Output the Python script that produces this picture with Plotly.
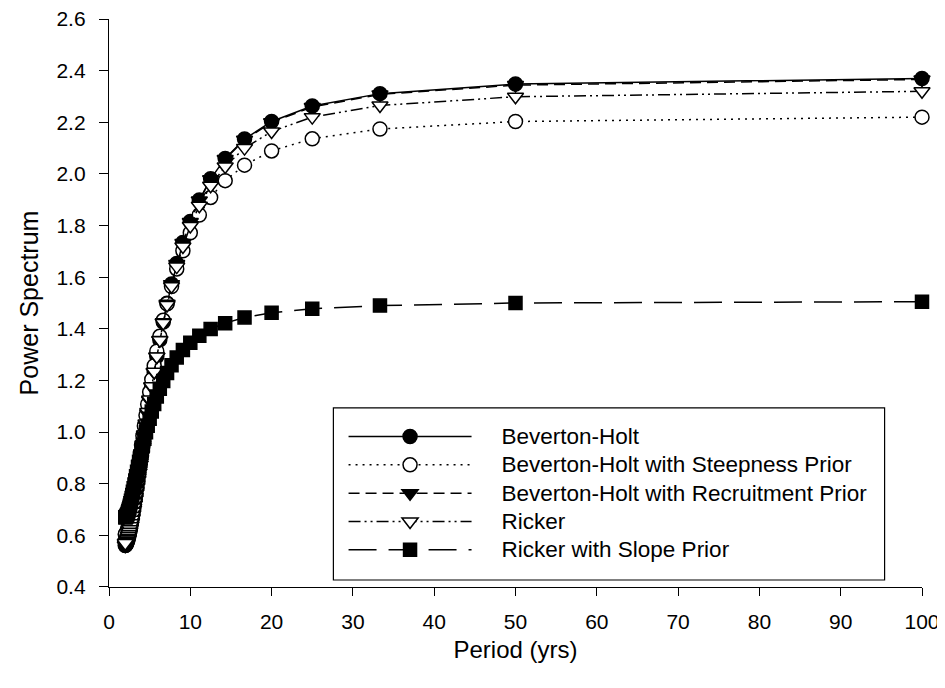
import plotly.graph_objects as go

period = [100, 50, 33.33, 25, 20, 16.67, 14.29, 12.5, 11.11, 10,
          9.09, 8.33, 7.69, 7.14, 6.67, 6.25, 5.88, 5.56, 5.26, 5,
          4.76, 4.55, 4.35, 4.17, 4, 3.85, 3.70, 3.57, 3.45, 3.33,
          3.23, 3.13, 3.03, 2.94, 2.86, 2.78, 2.70, 2.63, 2.56, 2.5,
          2.44, 2.38, 2.33, 2.27, 2.22, 2.17, 2.13, 2.08, 2.04, 2.0]

bh = [2.370, 2.348, 2.311, 2.263, 2.203, 2.135, 2.060, 1.981, 1.899, 1.816,
      1.734, 1.653, 1.574, 1.499, 1.426, 1.358, 1.293, 1.233, 1.176, 1.123,
      1.073, 1.027, 0.985, 0.945, 0.908, 0.874, 0.843, 0.814, 0.787, 0.763,
      0.740, 0.719, 0.700, 0.682, 0.666, 0.652, 0.638, 0.626, 0.615, 0.606,
      0.597, 0.589, 0.583, 0.577, 0.572, 0.568, 0.565, 0.563, 0.562, 0.561]

bh_steep = [2.220, 2.203, 2.174, 2.136, 2.089, 2.034, 1.974, 1.909, 1.841, 1.772,
            1.702, 1.632, 1.564, 1.497, 1.433, 1.371, 1.313, 1.257, 1.204, 1.155,
            1.108, 1.065, 1.024, 0.986, 0.950, 0.917, 0.887, 0.858, 0.832, 0.807,
            0.785, 0.764, 0.745, 0.727, 0.711, 0.696, 0.682, 0.670, 0.659, 0.649,
            0.640, 0.633, 0.626, 0.620, 0.615, 0.611, 0.608, 0.606, 0.604, 0.604]

bh_recr = [2.366, 2.344, 2.308, 2.259, 2.200, 2.132, 2.058, 1.979, 1.897, 1.814,
           1.732, 1.651, 1.573, 1.497, 1.425, 1.357, 1.292, 1.232, 1.175, 1.122,
           1.072, 1.026, 0.984, 0.944, 0.908, 0.874, 0.843, 0.814, 0.787, 0.763,
           0.740, 0.719, 0.700, 0.682, 0.666, 0.652, 0.638, 0.626, 0.615, 0.606,
           0.597, 0.589, 0.583, 0.577, 0.572, 0.568, 0.565, 0.563, 0.562, 0.561]

ricker = [2.320, 2.299, 2.265, 2.220, 2.164, 2.100, 2.029, 1.954, 1.877, 1.798,
          1.719, 1.641, 1.565, 1.492, 1.423, 1.356, 1.293, 1.234, 1.178, 1.126,
          1.078, 1.033, 0.991, 0.952, 0.915, 0.882, 0.851, 0.822, 0.795, 0.771,
          0.748, 0.727, 0.708, 0.691, 0.675, 0.660, 0.647, 0.635, 0.624, 0.614,
          0.605, 0.598, 0.591, 0.585, 0.580, 0.577, 0.574, 0.571, 0.570, 0.570]

ricker_slope = [1.505, 1.500, 1.490, 1.478, 1.462, 1.444, 1.422, 1.399, 1.373, 1.346,
                1.318, 1.289, 1.259, 1.229, 1.198, 1.168, 1.138, 1.109, 1.080, 1.052,
                1.025, 0.999, 0.974, 0.950, 0.927, 0.905, 0.885, 0.865, 0.846, 0.829,
                0.812, 0.797, 0.782, 0.769, 0.756, 0.745, 0.734, 0.724, 0.715, 0.707,
                0.700, 0.694, 0.688, 0.683, 0.679, 0.676, 0.673, 0.671, 0.670, 0.670]

names = ["Beverton-Holt",
         "Beverton-Holt with Steepness Prior",
         "Beverton-Holt with Recruitment Prior",
         "Ricker",
         "Ricker with Slope Prior"]

y_ticks = [0.4, 0.6, 0.8, 1.0, 1.2, 1.4, 1.6, 1.8, 2.0, 2.2, 2.4, 2.6]
x_ticks = [0, 10, 20, 30, 40, 50, 60, 70, 80, 90, 100]

FONT = "Liberation Sans, Arial, sans-serif"
pad = "\u00a0" * 4

styles = [
    dict(y=bh, dash="solid", symbol="circle", fill="black", size=14),
    dict(y=bh_steep, dash="2px,5px", symbol="circle", fill="white", size=14),
    dict(y=bh_recr, dash="11px,6px", symbol="triangle-down", fill="black", size=14),
    dict(y=ricker, dash="12px,4px,2px,4px,2px,4px", symbol="triangle-down", fill="white", size=14),
    dict(y=ricker_slope, dash="28px,12px", symbol="square", fill="black", size=13),
]

fig = go.Figure()
for i, (name, st) in enumerate(zip(names, styles)):
    fig.add_trace(go.Scatter(
        x=period, y=st["y"],
        name='<span style="font-size:22.5px">' + pad + name + '</span>',
        mode="lines+markers",
        legendgroup=f"g{i}", cliponaxis=False,
        line=dict(color="black", width=1.5, dash=st["dash"]),
        marker=dict(symbol=st["symbol"], size=st["size"], color=st["fill"],
                    line=dict(color="black", width=1.5)),
    ))

fig.update_layout(
    width=945, height=688,
    margin=dict(l=101, r=31, t=11, b=109, autoexpand=False),
    paper_bgcolor="white", plot_bgcolor="white",
    font=dict(family=FONT, color="black", size=21),
    legend=dict(x=0.2885, y=0.2988, xanchor="left", yanchor="top",
                bgcolor="rgba(0,0,0,0)", borderwidth=0,
                itemwidth=123, tracegroupgap=0,
                font=dict(size=19.5, family=FONT)),
    xaxis=dict(range=[0, 100], tickvals=x_ticks, showgrid=False, zeroline=False,
               showline=True, linecolor="black", linewidth=1.3,
               ticks="outside", ticklen=8, tickwidth=1.3, tickcolor="black",
               tickfont=dict(size=21), ticklabelstandoff=8,
               ticklabeloverflow="allow", automargin=False,
               title=dict(text="Period (yrs)", font=dict(size=24), standoff=8)),
    yaxis=dict(range=[0.3999, 2.6001], tickvals=y_ticks,
               ticktext=[f"{v:.1f}" for v in y_ticks],
               showgrid=False, zeroline=False,
               showline=True, linecolor="black", linewidth=1.3,
               ticks="outside", ticklen=9, tickwidth=1.3, tickcolor="black",
               tickfont=dict(size=21), ticklabelstandoff=9,
               ticklabeloverflow="allow", automargin=False,
               title=dict(text="Power Spectrum", font=dict(size=25), standoff=10)),
    shapes=[dict(type="rect", xref="paper", yref="paper",
                 x0=0.276, x1=0.954, y0=0.0123, y1=0.3154,
                 line=dict(color="black", width=1.2), fillcolor="rgba(0,0,0,0)",
                 layer="above")],
)

fig.write_html("out.html")
